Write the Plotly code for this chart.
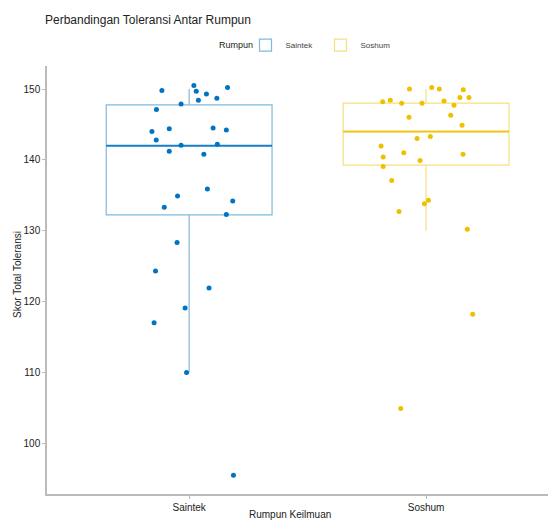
import plotly.graph_objects as go

categories = ["Saintek", "Soshum"]
colors = ["#0073C2", "#EFC000"]
box_line = ["rgba(0,115,194,0.5)", "rgba(239,192,0,0.5)"]
median_line = ["rgba(0,115,194,0.85)", "rgba(239,192,0,0.85)"]

# box statistics
q1 = [132.25, 139.25]
median = [142.0, 144.0]
q3 = [147.75, 148.0]
lower_whisker = [110.0, 130.0]
upper_whisker = [150.0, 150.0]

# jittered points (horizontal jitter offset, score)
saintek_jitter = [-0.115, 0.020, 0.030, 0.073, 0.162, 0.117, 0.039, -0.034, -0.138, -0.157,
                  -0.084, 0.101, 0.157, -0.139, -0.034, 0.119, -0.084, 0.062, 0.077, -0.049,
                  0.184, -0.105, 0.157, -0.051, -0.142, 0.084, -0.017, -0.148, -0.011, 0.187]
saintek_score = [149.8, 150.5, 149.7, 149.3, 150.2, 148.7, 148.4, 147.9, 147.1, 144.0,
                 144.4, 144.5, 144.2, 142.8, 142.05, 142.2, 141.2, 140.8, 135.9, 134.9,
                 134.2, 133.3, 132.3, 128.35, 124.3, 121.9, 119.1, 117.0, 110.0, 95.5]
soshum_jitter = [-0.070, 0.024, 0.056, 0.157, 0.143, 0.181, -0.151, -0.183, -0.103, -0.017,
                 0.076, 0.118, -0.072, 0.104, 0.152, -0.038, 0.018, -0.190, -0.181, -0.094,
                 0.156, -0.025, -0.181, -0.145, 0.010, -0.007, -0.114, 0.174, 0.197, -0.107]
soshum_score = [150.0, 150.2, 150.0, 149.9, 148.8, 148.8, 148.4, 148.2, 148.0, 148.0,
                148.3, 147.7, 146.0, 146.3, 144.9, 143.0, 143.3, 141.95, 140.4, 141.0,
                140.8, 139.9, 139.05, 137.1, 134.3, 133.8, 132.7, 130.2, 118.2, 104.9]

jitters = [saintek_jitter, soshum_jitter]
scores = [saintek_score, soshum_score]

box_width = 0.7
font_family = "Liberation Sans, Arial, sans-serif"

fig = go.Figure()
for i, cat in enumerate(categories):
    xpos = i + 1
    fig.add_trace(go.Box(
        x=[xpos], q1=[q1[i]], median=[median[i]], q3=[q3[i]],
        lowerfence=[lower_whisker[i]], upperfence=[upper_whisker[i]],
        name=cat, width=box_width, boxpoints=False,
        line=dict(color=box_line[i], width=1.2),
        fillcolor="rgba(255,255,255,0)",
        whiskerwidth=0, showlegend=True, legendgroup=cat,
        hoverinfo="skip",
    ))
    fig.add_trace(go.Scatter(
        x=[xpos - box_width / 2, xpos + box_width / 2], y=[median[i], median[i]],
        mode="lines", line=dict(color=median_line[i], width=2),
        showlegend=False, hoverinfo="skip",
    ))
    fig.add_trace(go.Scatter(
        x=[xpos + j for j in jitters[i]], y=scores[i], mode="markers",
        marker=dict(color=colors[i], size=5),
        showlegend=False, legendgroup=cat, name=cat,
    ))

fig.update_layout(
    width=548, height=514,
    margin=dict(l=39, r=0, t=58, b=28, autoexpand=False),
    paper_bgcolor="white", plot_bgcolor="white",
    font=dict(family=font_family, size=10, color="#222"),
    legend=dict(orientation="h", x=0.39, xanchor="left", y=1.049, yanchor="middle",
                font=dict(size=8, color="#444"), itemwidth=30, tracegroupgap=0,
                entrywidth=30),
    xaxis=dict(range=[0.4, 2.5485], tickvals=[1, 2], ticktext=categories, automargin=False,
               showgrid=False, zeroline=False, showline=True, linecolor="#BBBBBB", linewidth=1.5,
               ticks="outside", ticklen=3, tickcolor="#BBBBBB", tickfont=dict(size=10, color="#222")),
    yaxis=dict(range=[92.84, 153.25], tickvals=[100, 110, 120, 130, 140, 150], automargin=False,
               showgrid=False, zeroline=False, showline=True, linecolor="#BBBBBB", linewidth=1.5,
               ticks="outside", ticklen=3, tickcolor="#BBBBBB", tickfont=dict(size=10, color="#222")),
    annotations=[
        dict(text="Perbandingan Toleransi Antar Rumpun", xref="paper", yref="paper",
             x=-0.008, y=1.108, xanchor="left", yanchor="middle", showarrow=False,
             font=dict(size=12, color="#222")),
        dict(text="Rumpun", xref="paper", yref="paper", x=0.409, y=1.049,
             xanchor="right", yanchor="middle", showarrow=False, font=dict(size=9, color="#222")),
        dict(text="Rumpun Keilmuan", xref="paper", yref="paper", x=0.477, y=-0.049,
             xanchor="center", yanchor="middle", showarrow=False, font=dict(size=10, color="#222")),
        dict(text="Skor Total Toleransi", xref="paper", yref="paper", x=-0.059, y=0.514,
             xanchor="center", yanchor="middle", textangle=-90, showarrow=False,
             font=dict(size=10, color="#222")),
    ],
)

fig.write_html("out.html")
